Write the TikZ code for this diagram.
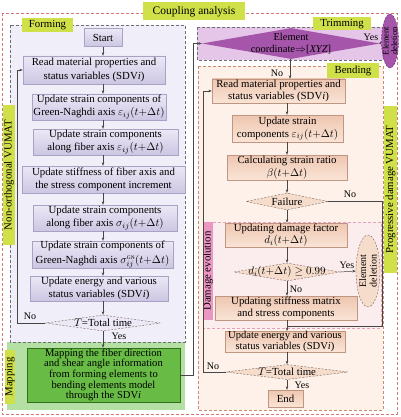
\documentclass[tikz,border=0pt]{standalone}
\usepackage{fontspec}
\setmainfont{Liberation Serif}
\usetikzlibrary{shapes.geometric,arrows.meta}
\definecolor{outerc}{RGB}{214,120,120}
\definecolor{formfill}{RGB}{240,238,248}
\definecolor{formdraw}{RGB}{110,110,120}
\definecolor{lavtop}{RGB}{236,232,246}
\definecolor{lavbot}{RGB}{204,198,226}
\definecolor{lavdraw}{RGB}{170,162,196}
\definecolor{mapfill}{RGB}{180,224,164}
\definecolor{mapbox}{RGB}{104,188,70}
\definecolor{mapdraw}{RGB}{50,110,30}
\definecolor{labc}{RGB}{208,224,72}
\definecolor{trimfill}{RGB}{230,198,232}
\definecolor{purp}{RGB}{166,86,170}
\definecolor{purpdark}{RGB}{90,40,100}
\definecolor{bendfill}{RGB}{253,241,233}
\definecolor{benddraw}{RGB}{200,140,110}
\definecolor{peachtop}{RGB}{238,198,176}
\definecolor{peachbot}{RGB}{250,228,214}
\definecolor{peachdraw}{RGB}{190,150,130}
\definecolor{damfill}{RGB}{251,237,238}
\definecolor{damdraw}{RGB}{226,160,190}
\definecolor{damlab}{RGB}{236,150,196}
\definecolor{diafill}{RGB}{246,220,203}
\definecolor{diadraw}{RGB}{120,100,90}
\definecolor{linec}{RGB}{70,70,70}
\newcommand\tdt{(t{+}\Delta t)}
\begin{document}
\begin{tikzpicture}[x=1pt,y=-1pt,
  txt/.style={font=\fontsize{10.8}{12.8}\selectfont, align=center, text=black},
  fbox/.style={txt, rectangle, inner sep=0pt, top color=lavtop, bottom color=lavbot, draw=lavdraw, line width=0.4pt},
  pbox/.style={txt, rectangle, inner sep=0pt, top color=peachtop, bottom color=peachbot, draw=peachdraw, line width=0.4pt},
  lab/.style={txt, rectangle, inner sep=0pt, fill=labc},
  region/.style={line width=0.5pt, dash pattern=on 3pt off 2pt},
  arr/.style={-{Stealth[length=3.5pt,width=2.6pt]}, line width=0.5pt, draw=linec},
  ln/.style={line width=0.5pt, draw=linec},
  sm/.style={font=\fontsize{10}{11}\selectfont, inner sep=0.5pt, text=black},
  dia/.style={diamond, inner sep=0pt, line width=0.4pt, dash pattern=on 2pt off 1.5pt},
]
\useasboundingbox (0,0) rectangle (400,417);
\fill[white] (0,0) rectangle (400,417);
% regions
\draw[region, draw=outerc] (2,13) rectangle (397,414);
\fill[mapfill] (7,342) rectangle (185,410);
\draw[region, draw=formdraw, fill=formfill] (10,25) rectangle (185,342);
\draw[region, draw=formdraw, fill=trimfill] (197,27) rectangle (383,60);
\draw[region, draw=benddraw, fill=bendfill] (198,66) rectangle (383,410);
\draw[region, draw=damdraw, fill=damfill] (203,222) rectangle (381,328);
% labels
\node[lab, minimum width=102, minimum height=18, font=\fontsize{11.5}{12}\selectfont] (lca) at (194,11.5) {Coupling analysis};
\node[lab, minimum width=51, minimum height=14] (lfo) at (47.5,25) {Forming};
\node[lab, minimum width=58, minimum height=13] (ltr) at (342,24) {Trimming};
\node[lab, minimum width=52, minimum height=15] (lbe) at (353,70.5) {Bending};
\node[lab, rotate=90, minimum width=140, minimum height=12] (lnv) at (9,175) {Non-orthogonal VUMAT};
\node[lab, rotate=90, minimum width=167, minimum height=13] (lpd) at (390.5,189.5) {Progressive damage VUMAT};
\node[lab, rotate=90, minimum width=54, minimum height=10] (lma) at (10,377) {Mapping};
\node[txt, rotate=90, fill=damlab, minimum width=98, minimum height=10, inner sep=0pt] (lde) at (208,271) {Damage evolution};
% forming nodes
\node[fbox, minimum width=38, minimum height=18] (start) at (103,37.5) {Start};
\node[fbox, minimum width=142, minimum height=28, font=\fontsize{10.8}{14}\selectfont] (f1) at (94,70) {Read material properties and\\status variables (SDV\textit{i})};
\node[fbox, minimum width=134, minimum height=26] (f2) at (99,107) {Update strain components of\\Green-Naghdi axis $\varepsilon_{ij}\tdt$};
\node[fbox, minimum width=145, minimum height=26] (f3) at (105.5,142) {Update strain components\\along fiber axis $\varepsilon_{ij}\tdt$};
\node[fbox, minimum width=163, minimum height=27] (f4) at (103.5,179.5) {Update stiffness of fiber axis and\\the stress component increment};
\node[fbox, minimum width=144, minimum height=26] (f5) at (105,218) {Update strain components\\along fiber axis $\sigma_{ij}\tdt$};
\node[fbox, minimum width=141, minimum height=27, font=\fontsize{10.8}{14.5}\selectfont] (f6) at (102.5,254.5) {Update strain components of\\Green-Naghdi axis $\sigma_{ij}^{\scriptscriptstyle\mathrm{GN}}\tdt$};
\node[fbox, minimum width=138, minimum height=25] (f7) at (99,288.5) {Update energy and various\\status variables (SDV\textit{i})};
\node[dia, draw=diadraw, fill=lavtop, minimum width=115, minimum height=16] (fd) at (103,323) {};
\node[txt] (fdt) at (fd) {$T$=Total time};
% mapping
\node[txt, font=\fontsize{10.6}{10.7}\selectfont, fill=mapbox, draw=mapdraw, line width=0.5pt, minimum width=153, minimum height=54, inner sep=0pt] (map) at (103.5,375) {Mapping the fiber direction\\and shear angle information\\from forming elements to\\bending elements model\\through the SDV\textit{i}};
% trimming
\node[diamond, inner sep=0pt, fill=purp, minimum width=178, minimum height=31] (td) at (291,43.5) {};
\node[txt, font=\fontsize{10.5}{12.5}\selectfont] (tdt) at (td) {Element\\coordinate$\Rightarrow$[\textit{XYZ}]};
\node[ellipse, inner sep=0pt, fill=purp, draw=purpdark, line width=0.4pt, dash pattern=on 2pt off 1.5pt, minimum width=17, minimum height=54] (el1) at (390,41) {};
\node[txt, rotate=90, font=\fontsize{8.5}{8.5}\selectfont] (el1t) at (el1) {Element\\deletion};
% bending
\node[pbox, minimum width=133, minimum height=24, font=\fontsize{10.8}{12}\selectfont] (b1) at (278.5,91) {Read material properties and\\status variables (SDV\textit{i})};
\node[pbox, minimum width=111, minimum height=27] (b2) at (287.5,128.5) {Update strain\\components $\varepsilon_{ij}\tdt$};
\node[pbox, minimum width=120, minimum height=25] (b3) at (287,167.5) {Calculating strain ratio\\$\beta\tdt$};
\node[dia, draw=diadraw, fill=diafill, minimum width=82, minimum height=17] (fail) at (287,201.5) {};
\node[txt] (failt) at (fail) {Failure};
\node[pbox, minimum width=122, minimum height=24] (d1) at (286,235) {Updating damage factor\\$d_i\tdt$};
\node[dia, draw=diadraw, fill=diafill, minimum width=106, minimum height=18] (d2) at (287,272) {};
\node[txt] (d2t) at (d2) {$d_i\tdt\geq 0.99$};
\node[ellipse, inner sep=0pt, fill=diafill, draw=diadraw, line width=0.4pt, dash pattern=on 2pt off 1.5pt, minimum width=24, minimum height=72] (el2) at (368,271) {};
\node[txt, rotate=90, font=\fontsize{10}{10.5}\selectfont] (el2t) at (el2) {Element\\deletion};
\node[pbox, minimum width=142, minimum height=24, font=\fontsize{10.8}{12}\selectfont] (d3) at (286,308) {Updating stiffness matrix\\and stress components};
\node[pbox, minimum width=120, minimum height=20, font=\fontsize{10.6}{10.8}\selectfont] (e) at (285,341.5) {Update energy and various\\status variables (SDV\textit{i})};
\node[dia, draw=diadraw, fill=diafill, minimum width=122, minimum height=15] (t2) at (287,372) {};
\node[txt] (t2t) at (t2) {$T$=Total time};
\node[pbox, minimum width=35, minimum height=17] (end) at (285.5,398.5) {End};
% axis coordinates
\coordinate (fa) at (103,0);
\coordinate (fl) at (17,0);
\coordinate (ml) at (193,0);
\coordinate (ba) at (287,0);
\coordinate (ta) at (290,0);
\coordinate (fr) at (382,0);
\coordinate (bl) at (203,0);
\coordinate (jn) at (0,326);
% forming connectors
\foreach \a/\b in {start/f1,f1/f2,f2/f3,f3/f4,f4/f5,f5/f6,f6/f7,f7/fd}
  \draw[arr] (fa |- \a.south) -- (fa |- \b.north);
\draw[arr] (fa |- fd.south) -- (fa |- map.north);
\node[sm] (y1) at (119,336) {Yes};
\draw[arr] (fd.west) -- (fl |- fd.west) -- (fl |- f1.west) -- (f1.west);
\node[sm] (n1) at (30,316) {No};
\draw[arr] (map.east) -- (ml |- map.east) -- (ml |- td.west) -- (td.west);
% trimming connectors
\draw[arr] (td.east) -- (el1.west);
\node[sm] (y2) at (371,37) {Yes};
\draw[arr] (ta |- td.south) -- (ta |- b1.north);
\node[sm] (n2) at (277,73.5) {No};
% bending connectors
\foreach \a/\b in {b1/b2,b2/b3,b3/fail,fail/d1,d1/d2,d2/d3,d3/e,e/t2,t2/end}
  \draw[arr] (ba |- \a.south) -- (ba |- \b.north);
\draw[arr] (d2.east) -- (el2.west);
\node[sm] (y3) at (347,265.5) {Yes};
\node[sm] (n3) at (296,289.5) {No};
\draw[ln] (fail.east) -- (fr |- fail.east) -- (fr |- jn) -- (ba |- jn);
\node[sm] (n4) at (350,194) {No};
\draw[arr] (t2.west) -- (bl |- t2.west) -- (bl |- b1.west) -- (b1.west);
\node[sm] (n5) at (213,366) {No};
\node[sm] (y4) at (302,385) {Yes};
\end{tikzpicture}
\end{document}
